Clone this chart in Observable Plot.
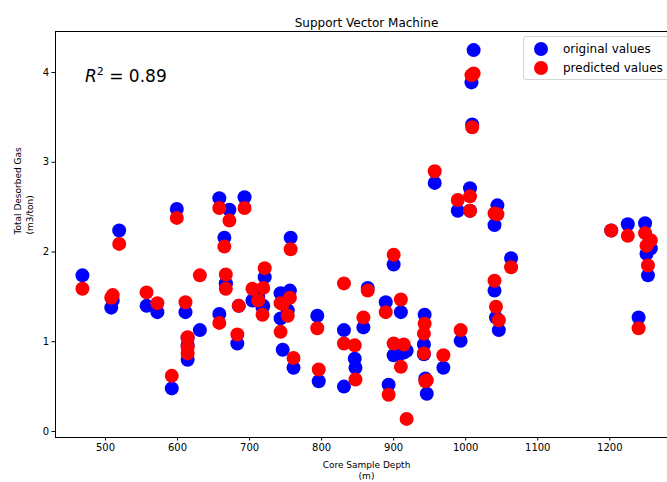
<!DOCTYPE html>
<html>
<head>
<meta charset="utf-8">
<script src="https://cdn.jsdelivr.net/npm/d3@7"></script>
<script src="https://cdn.jsdelivr.net/npm/@observablehq/plot@0.6"></script>
<style>
  html, body { margin: 0; padding: 0; background: #fff; overflow: hidden; }
  #wrap { position: relative; width: 667px; height: 482px; overflow: hidden; font-family: "DejaVu Sans", sans-serif; color: #000; }
  #wrap svg { overflow: hidden; display: block; }
  .legend { position: absolute; left: 523px; top: 36px; width: 170px; height: 44px; box-sizing: border-box;
            border: 1px solid #d4d4d4; border-radius: 3px; background: rgba(255,255,255,0.85); }
  .legend .row { position: absolute; left: 0; height: 18px; font-size: 12px; line-height: 18px; white-space: nowrap; }
  .legend .sw { position: absolute; left: 10px; top: 2px; width: 14px; height: 14px; border-radius: 50%; }
  .legend .lb { position: absolute; left: 39px; top: 0; }
  .r2 { position: absolute; left: 85px; top: 66px; font-size: 17px; white-space: nowrap; }
  .r2 sup { font-size: 11px; vertical-align: 7px; line-height: 0; }
</style>
</head>
<body>
<div id="wrap"></div>
<script>
// Core sample depth (m) for each sample
const depth = [468, 508, 510, 519, 557, 572, 592, 599, 611, 614, 614, 614, 631, 658, 672, 693, 665, 658, 667, 667,
  685, 683, 721, 704, 712, 719, 718, 743, 756, 753, 743, 746, 761, 757, 794, 796, 831, 831, 846, 847,
  864, 858, 889, 900, 910, 900, 914, 910, 893, 918, 943, 942, 942, 944, 946, 969, 993, 957, 989, 1006,
  1006, 1044, 1040, 1063, 1040, 1042, 1046, 1011, 1008, 1009, 1202, 1225, 1249, 1257, 1251, 1253, 1240];

// Measured total desorbed gas (m3/ton)
const original = [1.74, 1.38, 1.46, 2.24, 1.40, 1.33, 0.48, 2.48, 1.33, 0.80, 0.96, 1.04, 1.13, 2.60, 2.47, 2.61, 2.16, 1.31, 1.65, 1.65,
  1.40, 0.98, 1.72, 1.46, 1.50, 1.40, 1.38, 1.54, 1.57, 1.35, 1.26, 0.91, 0.71, 2.16, 1.29, 0.56, 1.13, 0.50, 0.81, 0.71,
  1.60, 1.16, 1.44, 1.86, 1.33, 0.85, 0.88, 0.87, 0.52, 0.90, 1.30, 0.97, 0.86, 0.59, 0.42, 0.71, 1.01, 2.77, 2.46, 2.71,
  2.46, 2.52, 2.30, 1.93, 1.57, 1.27, 1.13, 4.25, 3.89, 3.42, 2.24, 2.31, 2.32, 2.04, 1.98, 1.74, 1.27];

// SVM predictions for the same samples
const predicted = [1.59, 1.49, 1.52, 2.09, 1.55, 1.43, 0.62, 2.38, 1.44, 0.87, 0.94, 1.05, 1.74, 2.49, 2.35, 2.49, 2.06, 1.21, 1.75, 1.59,
  1.40, 1.08, 1.82, 1.59, 1.46, 1.60, 1.30, 1.43, 1.49, 1.29, 1.11, 1.42, 0.82, 2.03, 1.15, 0.69, 0.98, 1.65, 0.96, 0.58,
  1.57, 1.27, 1.33, 1.97, 1.47, 0.98, 0.97, 0.72, 0.41, 0.14, 1.20, 1.09, 0.87, 0.56, 0.57, 0.85, 1.13, 2.90, 2.58, 2.62,
  2.46, 2.42, 2.43, 1.83, 1.68, 1.39, 1.24, 3.99, 3.97, 3.39, 2.24, 2.18, 2.21, 2.13, 2.07, 1.85, 1.15];

const xTicks = [500, 600, 700, 800, 900, 1000, 1100, 1200];
const yTicks = [0, 1, 2, 3, 4];
const seriesNames = ["original values", "predicted values"];
const seriesColors = ["#0000ff", "#ff0000"];
const titleText = "Support Vector Machine";
const xLabel = "Core Sample Depth\n(m)";
const yLabel = "Total Desorbed Gas\n(m3/ton)";
const r2Value = "0.89";

const rows = depth.map((d, i) => ({depth: d, original: original[i], predicted: predicted[i]}));

const chart = Plot.plot({
  width: 667,
  height: 482,
  marginLeft: 55,
  marginRight: -10,
  marginTop: 31,
  marginBottom: 45,
  style: {fontFamily: "DejaVu Sans, sans-serif", fontSize: "10px", color: "#000", background: "#fff", overflow: "hidden"},
  x: {domain: [430.6, 1294], ticks: xTicks, tickFormat: d => String(d), tickSize: 3.5, tickPadding: 3, label: null},
  y: {domain: [-0.067, 4.457], ticks: yTicks, tickFormat: d => String(d), tickSize: 3.5, tickPadding: 3, label: null},
  marks: [
    Plot.dot(rows, {x: "depth", y: "original", r: 7, fill: seriesColors[0]}),
    Plot.dot(rows, {x: "depth", y: "predicted", r: 7, fill: seriesColors[1]}),
    Plot.frame({stroke: "#000", strokeWidth: 1}),
    Plot.text([titleText], {frameAnchor: "top", dy: -13, fontSize: 12, text: d => d, fill: "#000"}),
    Plot.text([xLabel], {frameAnchor: "bottom", dy: 23, lineAnchor: "top", lineHeight: 1.2, fontSize: 9, text: d => d, fill: "#000"}),
    Plot.text([yLabel], {frameAnchor: "left", dx: -32, rotate: -90, lineAnchor: "middle", lineHeight: 1.3, fontSize: 9, text: d => d, fill: "#000"})
  ]
});

const wrap = document.getElementById("wrap");
wrap.appendChild(chart);

// Coefficient of determination annotation
const r2 = document.createElement("div");
r2.className = "r2";
r2.innerHTML = "<i>R</i><sup>2</sup> = " + r2Value;
wrap.appendChild(r2);

// Legend box
const legend = document.createElement("div");
legend.className = "legend";
seriesNames.forEach((name, i) => {
  const row = document.createElement("div");
  row.className = "row";
  row.style.top = (3 + i * 19) + "px";
  const sw = document.createElement("span");
  sw.className = "sw";
  sw.style.background = seriesColors[i];
  const lb = document.createElement("span");
  lb.className = "lb";
  lb.textContent = name;
  row.appendChild(sw);
  row.appendChild(lb);
  legend.appendChild(row);
});
wrap.appendChild(legend);
</script>
</body>
</html>
